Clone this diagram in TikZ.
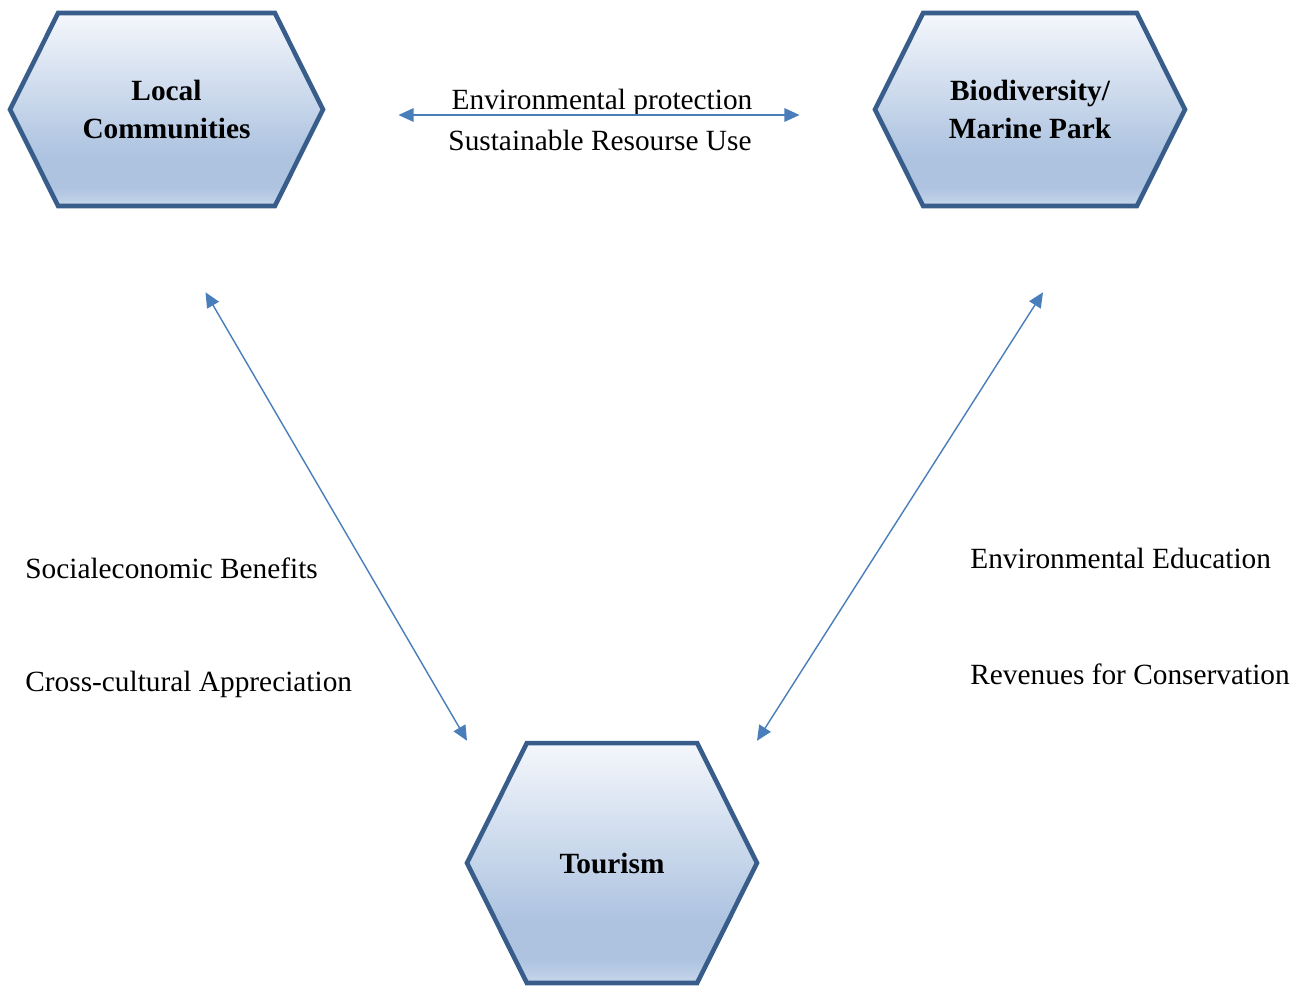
\documentclass[tikz,border=0pt]{standalone}
\usepackage{fontspec}
\setmainfont{Liberation Serif}
\usetikzlibrary{calc, arrows.meta, positioning, shapes.symbols}

\definecolor{hexline}{HTML}{385D8A}
\definecolor{hextop}{HTML}{F4F7FC}
\definecolor{hexlow}{HTML}{ADC3E0}
\definecolor{hexbot}{HTML}{C6D6EB}
\definecolor{linkblue}{HTML}{4A7EBB}

% light at the top, darker blue near the foot
\pgfdeclareverticalshading{hexfill}{100bp}{color(0bp)=(hexbot); color(25bp)=(hexbot);
    color(30bp)=(hexlow); color(38bp)=(hexlow); color(75bp)=(hextop); color(100bp)=(hextop)}

\begin{document}
\begin{tikzpicture}[
    x=0.02cm, y=-0.02cm,
    >={Triangle[length=0.3cm, width=0.27cm]},
    hexbox/.style={signal, signal to=east and west, signal pointer angle=127,
        draw=hexline, line width=2.6pt, shading=hexfill, inner sep=0pt,
        align=center, font=\bfseries\fontsize{16.7}{22}\selectfont},
    link/.style={<->, draw=linkblue, line width=0.8pt, fill=linkblue},
    note/.style={inner sep=0pt, font=\fontsize{16.7}{22}\selectfont}
]
    \useasboundingbox (0,0) rectangle (1300,985);

    % Nodes ------------------------------------------------------

    \node[hexbox, minimum width=6.26cm, minimum height=3.86cm] (lc) at (166.5,109.5) {Local\\Communities};
    \node[hexbox, minimum width=6.2cm, minimum height=3.86cm] (bio) at (1030,109.5) {Biodiversity/\\Marine Park};
    \node[hexbox, minimum width=5.8cm, minimum height=4.8cm] (tour) at (612,863) {Tourism};

    % arrow ends
    \coordinate (lc-east) at ($(lc.east)+(73,5.5)$);
    \coordinate (bio-west) at ($(bio.west)+(-73,5.5)$);
    \coordinate (lc-foot) at ($(lc.south)+(39,84)$);
    \coordinate (bio-foot) at ($(bio.south)+(13,84)$);
    \coordinate (tour-left) at ($(tour.north)+(-145,0)$);
    \coordinate (tour-right) at ($(tour.north)+(145,0)$);

    % labels
    \node[note] (protect) at (602,102) {Environmental protection};
    \node[note] (resource) at (600,140) {Sustainable Resourse Use};
    \node[note, anchor=west] (socio) at (25,568) {Socialeconomic Benefits};
    \node[note, anchor=west] (cross) at (25,684) {Cross-cultural Appreciation};
    \node[note, anchor=west] (edu) at (970,558) {Environmental Education};
    \node[note, anchor=west] (revenue) at (970,674) {Revenues for Conservation};

    % Arrows ---------------------------------------------------

    \draw[link] (lc-east) -- (bio-west);
    \draw[link] (lc-foot) -- (tour-left);
    \draw[link] (bio-foot) -- (tour-right);

\end{tikzpicture}
\end{document}
